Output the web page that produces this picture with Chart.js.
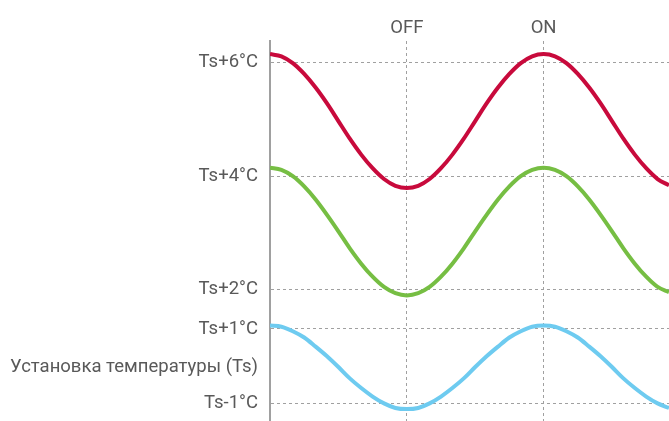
<!DOCTYPE html>
<html>
<head>
<meta charset="utf-8">
<script src="https://cdn.jsdelivr.net/npm/chart.js@4"></script>
<style>
html,body{margin:0;padding:0;background:#fff;}
#wrap{position:relative;width:669px;height:421px;}
</style>
</head>
<body>
<div id="wrap"><canvas id="c"></canvas></div>
<script>
// x positions (time steps); OFF at 6, ON at 12
const xSteps = [0,0.5,1,1.5,2,2.5,3,3.5,4,4.5,5,5.5,6,6.5,7,7.5,8,8.5,9,9.5,10,10.5,11,11.5,12,12.5,13,13.5,14,14.5,15,15.5,16,16.5,17,17.5];
const xTickValues = [6, 12];
const xTickLabels = ['OFF', 'ON'];

// y tick positions and labels (drawing is not to scale)
const yTickValues = [0, 0.64, 1.31, 2, 4, 6];
const yTickLabels = ['Ts-1°C', 'Установка температуры (Ts)', 'Ts+1°C', 'Ts+2°C', 'Ts+4°C', 'Ts+6°C'];

// series values
const redValues = [6.15,6.11,5.99,5.80,5.56,5.28,4.97,4.66,4.38,4.14,3.95,3.83,3.79,3.83,3.95,4.14,4.38,4.66,4.97,5.28,5.56,5.80,5.99,6.11,6.15,6.11,5.99,5.80,5.56,5.28,4.97,4.66,4.38,4.14,3.95,3.84];
const greenValues = [4.15,4.11,4.00,3.82,3.59,3.32,3.03,2.73,2.46,2.23,2.05,1.94,1.90,1.94,2.05,2.23,2.46,2.73,3.03,3.32,3.59,3.82,4.00,4.11,4.15,4.11,4.00,3.82,3.59,3.32,3.03,2.73,2.46,2.23,2.05,1.96];
const blueValues = [1.37,1.35,1.27,1.16,1.00,0.83,0.64,0.44,0.27,0.12,0.00,-0.08,-0.10,-0.08,0.00,0.12,0.27,0.44,0.64,0.83,1.00,1.16,1.27,1.35,1.37,1.35,1.27,1.16,1.00,0.83,0.64,0.44,0.27,0.12,0.00,-0.08];

const toPts = (vals) => vals.map((v, i) => ({x: xSteps[i], y: v}));
const textColor = '#595959';
const fontFam = 'Roboto, "Noto Sans", sans-serif';
const zeroPad = (s) => { s.paddingTop = 0; s.paddingBottom = 0; s.paddingLeft = 0; s.paddingRight = 0; };

new Chart(document.getElementById('c'), {
  type: 'line',
  data: {
    datasets: [
      {data: toPts(redValues), borderColor: '#c80a3c', borderWidth: 4, pointRadius: 0, cubicInterpolationMode: 'monotone', fill: false},
      {data: toPts(greenValues), borderColor: '#76be43', borderWidth: 4, pointRadius: 0, cubicInterpolationMode: 'monotone', fill: false},
      {data: toPts(blueValues), borderColor: '#6ecbf0', borderWidth: 4, pointRadius: 0, cubicInterpolationMode: 'monotone', fill: false}
    ]
  },
  options: {
    responsive: true,
    maintainAspectRatio: false,
    animation: false,
    layout: {padding: 0},
    plugins: {legend: {display: false}, tooltip: {enabled: false}},
    scales: {
      x: {
        type: 'linear',
        position: 'top',
        min: 0,
        max: 17.5,
        afterBuildTicks: (s) => { s.ticks = xTickValues.map(v => ({value: v})); },
        afterFit: (s) => { s.height = 41; zeroPad(s); },
        ticks: {
          callback: (v) => { const i = xTickValues.indexOf(v); return i >= 0 ? xTickLabels[i] : ''; },
          color: textColor,
          font: {family: fontFam, size: 18.5},
          padding: 2,
          maxRotation: 0
        },
        grid: {color: '#a0a0a0', lineWidth: 1, drawTicks: false},
        border: {display: false, dash: [3, 3]}
      },
      y: {
        type: 'linear',
        min: -0.31,
        max: 6.38,
        afterBuildTicks: (s) => { s.ticks = yTickValues.map(v => ({value: v})); },
        afterFit: (s) => { s.width = 270; zeroPad(s); },
        ticks: {
          callback: (v) => { const i = yTickValues.indexOf(v); return i >= 0 ? yTickLabels[i] : ''; },
          color: textColor,
          font: {family: fontFam, size: 18.5},
          padding: 12
        },
        grid: {
          color: (ctx) => (ctx.tick && ctx.tick.value === 0.64) ? 'rgba(0,0,0,0)' : '#a0a0a0',
          lineWidth: 1,
          drawTicks: false
        },
        border: {display: true, color: '#a0a0a0', width: 2, dash: [3, 3]}
      }
    }
  }
});
</script>
</body>
</html>
